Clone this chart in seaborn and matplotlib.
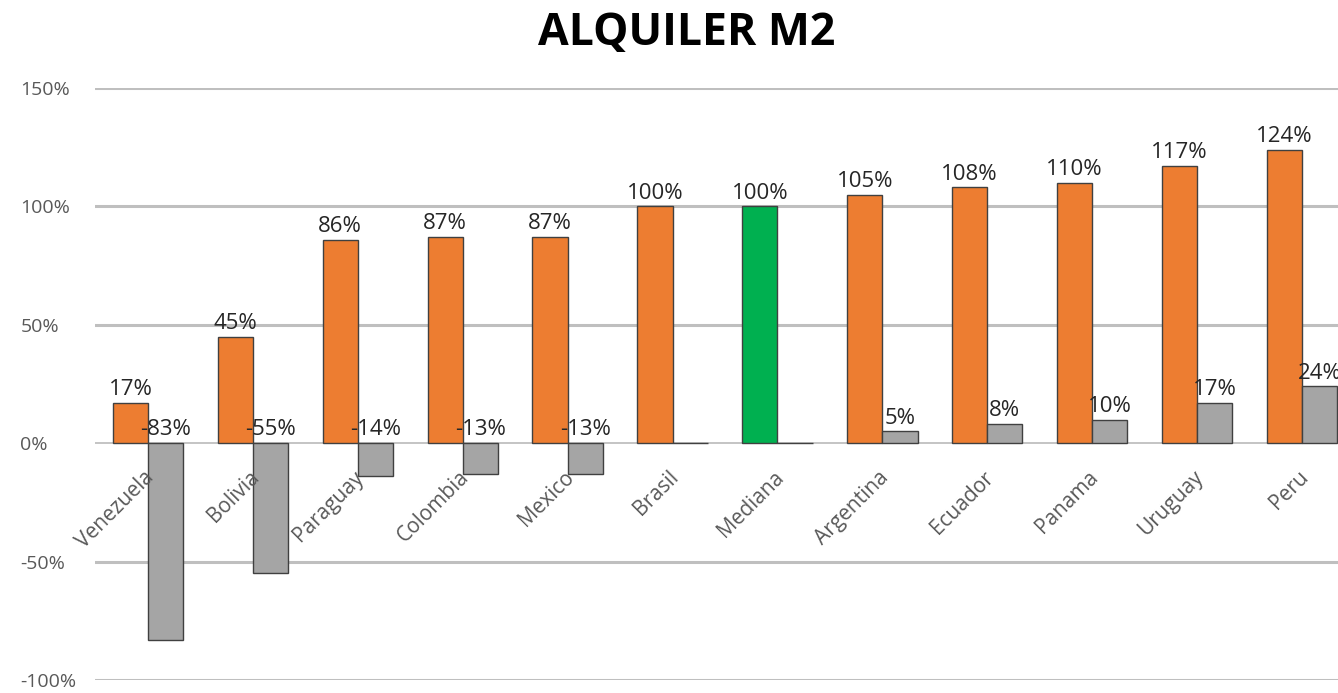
import numpy as np
import pandas as pd
import seaborn as sns
import matplotlib.pyplot as plt

sns.set_style("white")
plt.rcParams['font.family'] = ['Open Sans', 'DejaVu Sans']

# Data
paises = ['Venezuela', 'Bolivia', 'Paraguay', 'Colombia', 'Mexico', 'Brasil',
          'Mediana', 'Argentina', 'Ecuador', 'Panama', 'Uruguay', 'Peru']
indice = [17, 45, 86, 87, 87, 100, 100, 105, 108, 110, 117, 124]
diferencia = [-83, -55, -14, -13, -13, 0, 0, 5, 8, 10, 17, 24]
yticks = [-100, -50, 0, 50, 100, 150]

df = pd.DataFrame({
    'pais': paises * 2,
    'valor': indice + diferencia,
    'serie': ['indice'] * len(paises) + ['diferencia'] * len(paises),
})

fig = plt.figure(figsize=(13.38, 6.93), dpi=100)
# axes deliberately runs past the right edge, like the cropped original
ax = fig.add_axes([95.5 / 1338, 13 / 693, 1259 / 1338, 592 / 693])

sns.barplot(data=df, x='pais', y='valor', hue='serie', order=paises,
            hue_order=['indice', 'diferencia'],
            palette={'indice': '#ED7D31', 'diferencia': '#A5A5A5'},
            saturation=1, width=0.67, edgecolor='#404040', linewidth=1.0,
            legend=False, ax=ax, zorder=3)

# the median bar is green
ax.containers[0][paises.index('Mediana')].set_facecolor('#00B050')

ax.set_ylim(-100, 150)
ax.set_xlim(-0.5, len(paises) - 0.5)
for v in yticks:
    ax.axhline(v, color='#BFBFBF', lw=2.2 if v != 0 else 1.3, zorder=1)

ax.set_yticks(yticks)
ax.set_yticklabels([f'{v}%' for v in yticks], color='#595959', fontsize=14)
ax.tick_params(axis='y', length=0, pad=54)
for lbl in ax.get_yticklabels():
    lbl.set_horizontalalignment('left')
ax.set_xticks([])
ax.set_xlabel('')
ax.set_ylabel('')
for s in ax.spines.values():
    s.set_visible(False)

# data labels
for cont in ax.containers:
    for p in cont:
        h = p.get_height()
        if h == 0:
            continue
        ax.annotate(f'{h:.0f}%', (p.get_x() + p.get_width() / 2, max(h, 0)),
                    xytext=(0, 2), textcoords='offset points',
                    ha='center', va='bottom', fontsize=16, color='#262626',
                    zorder=5)

# category labels along the zero line
for i, name in enumerate(paises):
    ax.annotate(name, (i, 0), xytext=(-3, -17), textcoords='offset points',
                rotation=45, rotation_mode='anchor', ha='right', va='top',
                fontsize=15, color='#595959', zorder=4)

fig.text(687 / 1338, 1 - 33 / 693, 'ALQUILER M2', ha='center', va='center',
         fontsize=32, fontweight='bold', color='#000000')

plt.savefig('out.png', dpi=100)
